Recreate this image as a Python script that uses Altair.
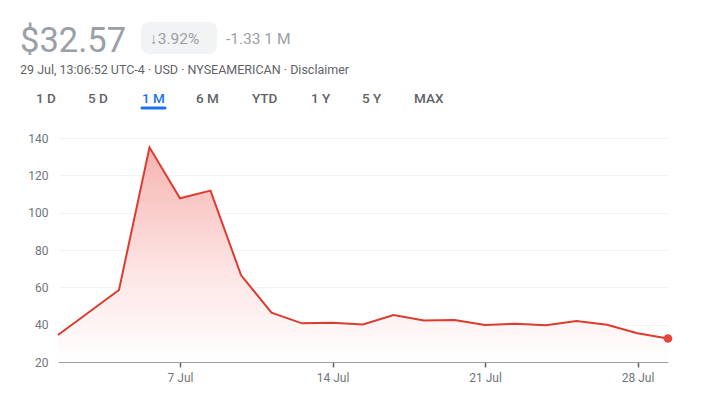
import altair as alt
import pandas as pd

# ---- data ----
dates = ["30 Jun", "1 Jul", "2 Jul", "3 Jul", "7 Jul", "8 Jul", "9 Jul", "10 Jul", "11 Jul",
         "14 Jul", "15 Jul", "16 Jul", "17 Jul", "18 Jul", "21 Jul", "22 Jul", "23 Jul",
         "24 Jul", "25 Jul", "28 Jul", "29 Jul"]
prices = [34.5, 46.5, 58.6, 135.0, 107.7, 111.8, 66.6, 46.4, 40.7,
          41.0, 40.1, 45.2, 42.2, 42.5, 39.8, 40.5, 39.7,
          42.0, 40.0, 35.4, 32.57]
tick_labels = ["7 Jul", "14 Jul", "21 Jul", "28 Jul"]
y_ticks = [20, 40, 60, 80, 100, 120, 140]

price_text = "$32.57"
change_pct = "↓3.92%"
change_abs = "-1.33 1 M"
info_line = "29 Jul, 13:06:52 UTC-4 · USD · NYSEAMERICAN · Disclaimer"
tabs = ["1 D", "5 D", "1 M", "6 M", "YTD", "1 Y", "5 Y", "MAX"]
active_tab = "1 M"

df = pd.DataFrame({"idx": list(range(len(dates))), "date": dates, "price": prices})
tick_idx = [dates.index(t) for t in tick_labels]
label_expr = " : ".join(
    [f"datum.value == {i} ? '{t}'" for i, t in zip(tick_idx, tick_labels)] + ["''"]
)

FONT = "Roboto"
W, H = 610, 224
Y_MIN, Y_MAX = 20, 140

x = alt.X("idx:Q", scale=alt.Scale(domain=[0, len(dates) - 1], nice=False),
          axis=alt.Axis(values=tick_idx, labelExpr=label_expr, title=None, grid=False,
                        domainColor="#9aa0a6", tickColor="#5f6368", tickSize=5, tickWidth=1.5,
                        labelPadding=5, labelColor="#70757a", labelFontSize=12, labelFont=FONT,
                        zindex=1))
y = alt.Y("price:Q", scale=alt.Scale(domain=[Y_MIN, Y_MAX], nice=False, zero=False),
          axis=alt.Axis(values=y_ticks, title=None, domain=False, ticks=False, labelPadding=10,
                        gridColor="#f1f3f4", labelColor="#70757a", labelFontSize=12, labelFont=FONT))

gradient = alt.Gradient(gradient="linear",
                        stops=[alt.GradientStop(color="#f6b3b0", offset=0),
                               alt.GradientStop(color="#fce3e2", offset=0.55),
                               alt.GradientStop(color="#ffffff", offset=1)],
                        x1=0, x2=0, y1=0, y2=1)

base = alt.Chart(df)
area = base.mark_area(color=gradient, line=False).encode(x=x, y=y, y2=alt.Y2(datum=Y_MIN))
line = base.mark_line(color="#dc3b2f", strokeWidth=2).encode(x=x, y=y)
dot = alt.Chart(df.tail(1)).mark_circle(color="#e8453c", opacity=1, size=75).encode(x=x, y=y)

layers = [area, line, dot]

def txt(text, xv, yv, size, color, weight="normal"):
    return alt.Chart(pd.DataFrame({"t": [text]})).mark_text(
        align="left", baseline="alphabetic", font=FONT, fontSize=size, color=color,
        fontWeight=weight
    ).encode(text="t:N", x=alt.value(xv), y=alt.value(yv))

# header (coords relative to plot origin at page (58, 138))
OX, OY = 58, 138
layers.append(txt(price_text, 20 - OX, 52 - OY, 34.5, "#9aa0a6"))
badge = alt.Chart(pd.DataFrame({"a": [0]})).mark_rect(
    color="#f1f3f4", cornerRadius=8
).encode(x=alt.value(141 - OX), x2=alt.value(217 - OX), y=alt.value(22 - OY), y2=alt.value(54 - OY))
layers.append(badge)
layers.append(txt(change_pct, 150 - OX, 44 - OY, 15.5, "#9aa0a6"))
layers.append(txt(change_abs, 226 - OX, 44 - OY, 15.5, "#9aa0a6"))
layers.append(txt(info_line, 20 - OX, 74 - OY, 12.5, "#5f6368"))

tab_x = [36, 88, 142, 196, 252, 311, 362, 414]
for t, px in zip(tabs, tab_x):
    col = "#1a73e8" if t == active_tab else "#5f6368"
    layers.append(txt(t, px - OX, 103 - OY, 13.5, col, 500))
ai = tabs.index(active_tab)
underline = alt.Chart(pd.DataFrame({"a": [0]})).mark_rule(
    color="#1a73e8", strokeWidth=3, strokeCap="round"
).encode(x=alt.value(tab_x[ai] - OX), x2=alt.value(tab_x[ai] - OX + 23), y=alt.value(108 - OY))
layers.append(underline)

chart = alt.layer(*layers).properties(
    width=W, height=H,
    background="white",
    autosize=alt.AutoSizeParams(type="none"),
    padding={"left": 50, "top": 130, "right": 41, "bottom": 25},
).configure_view(stroke=None)

chart.save("out.html", embed_options={"renderer": "svg", "actions": False})
